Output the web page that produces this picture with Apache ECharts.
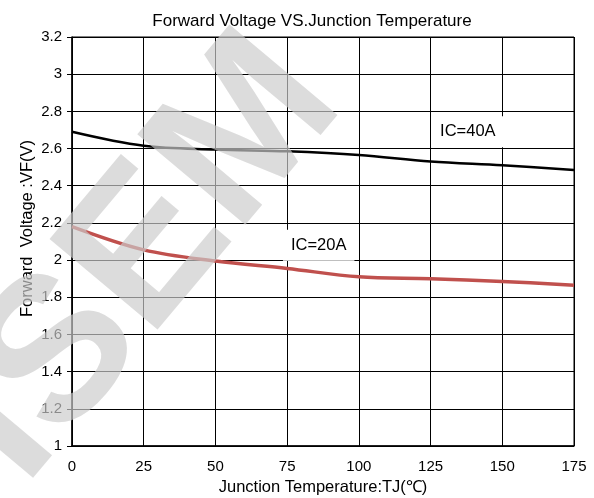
<!DOCTYPE html>
<html>
<head>
<meta charset="utf-8">
<script src="https://cdn.jsdelivr.net/npm/echarts@6/dist/echarts.min.js"></script>
<style>
  html, body { margin: 0; padding: 0; background: #fff; }
  #chart { width: 594px; height: 498px; }
</style>
</head>
<body>
<div id="chart"></div>
<script>
// junction temperature (°C)
const temps = [0, 25, 50, 75, 100, 125, 150, 175];
// forward voltage, IC = 40A
const vf40 = [2.69, 2.615, 2.595, 2.585, 2.565, 2.53, 2.51, 2.485];
// forward voltage, IC = 20A
const vf20 = [2.18, 2.055, 1.995, 1.955, 1.91, 1.9, 1.885, 1.865];
// curve labels: [name, temp, voltage]
const curveLabels = [
  ["IC=40A", 138, 2.69],
  ["IC=20A", 86, 2.08],
];

const FONT = "Liberation Sans, Arial, sans-serif";

const chart = echarts.init(document.getElementById("chart"));

const labelPoint = (item) => ({
  coord: [item[1], item[2]],
  value: item[0],
  symbol: "rect",
  symbolSize: 0,
  label: {
    show: true,
    position: "inside",
    formatter: item[0],
    color: "#000",
    fontFamily: FONT,
    fontSize: 16.5,
    backgroundColor: "#fff",
    padding: [7, 8],
  },
});

const option = {
  animation: false,
  backgroundColor: "#fff",
  title: {
    text: "Forward Voltage VS.Junction Temperature",
    left: 307,
    top: 8,
    textAlign: "center",
    textStyle: {
      fontFamily: FONT,
      fontSize: 17,
      fontWeight: "normal",
      color: "#000",
    },
  },
  grid: {
    left: 72,
    right: 20,
    top: 37,
    bottom: 52,
    containLabel: false,
    outerBoundsMode: "none",
    show: true,
    borderColor: "#000",
    borderWidth: 1,
  },
  xAxis: {
    type: "value",
    min: 0,
    max: 175,
    interval: 25,
    name: "Junction Temperature:TJ(℃)",
    nameLocation: "middle",
    nameGap: 31,
    nameTextStyle: { fontFamily: FONT, fontSize: 16.5, color: "#000" },
    axisLine: { lineStyle: { color: "#000", width: 1.5 } },
    axisTick: { show: false },
    axisLabel: { fontFamily: FONT, fontSize: 15, color: "#000", margin: 13 },
    splitLine: { lineStyle: { color: "#000", width: 1 } },
  },
  yAxis: {
    type: "value",
    min: 1,
    max: 3.2,
    interval: 0.2,
    axisLine: { show: true, lineStyle: { color: "#000", width: 1.5 } },
    axisTick: { show: true, length: 5, lineStyle: { color: "#000" } },
    axisLabel: {
      fontFamily: FONT,
      fontSize: 15,
      color: "#000",
      margin: 10,
      formatter: (v) => String(Math.round(v * 10) / 10),
    },
    splitLine: { lineStyle: { color: "#000", width: 1 } },
  },
  graphic: [
    {
      type: "text",
      left: 19,
      top: 140,
      rotation: Math.PI / 2,
      style: {
        text: "Forward  Voltage :VF(V)",
        fontFamily: FONT,
        fontSize: 16.5,
        fill: "#000",
      },
    },
    {
      type: "text",
      x: 142,
      y: 260,
      rotation: (50 * Math.PI) / 180,
      z: 100,
      style: {
        text: "ISEM",
        fontFamily: FONT,
        fontSize: 205,
        fontWeight: "bold",
        fill: "#cccccc",
        opacity: 0.68,
        align: "center",
        verticalAlign: "middle",
      },
    },
  ],
  series: [
    {
      type: "line",
      data: temps.map((t, i) => [t, vf40[i]]),
      smooth: 0.35,
      showSymbol: false,
      lineStyle: { color: "#000", width: 2.5 },
      markPoint: { data: [labelPoint(curveLabels[0])] },
    },
    {
      type: "line",
      data: temps.map((t, i) => [t, vf20[i]]),
      smooth: 0.35,
      showSymbol: false,
      lineStyle: { color: "#c0504d", width: 3.5 },
      markPoint: { data: [labelPoint(curveLabels[1])] },
    },
  ],
};

chart.setOption(option);
</script>
</body>
</html>
